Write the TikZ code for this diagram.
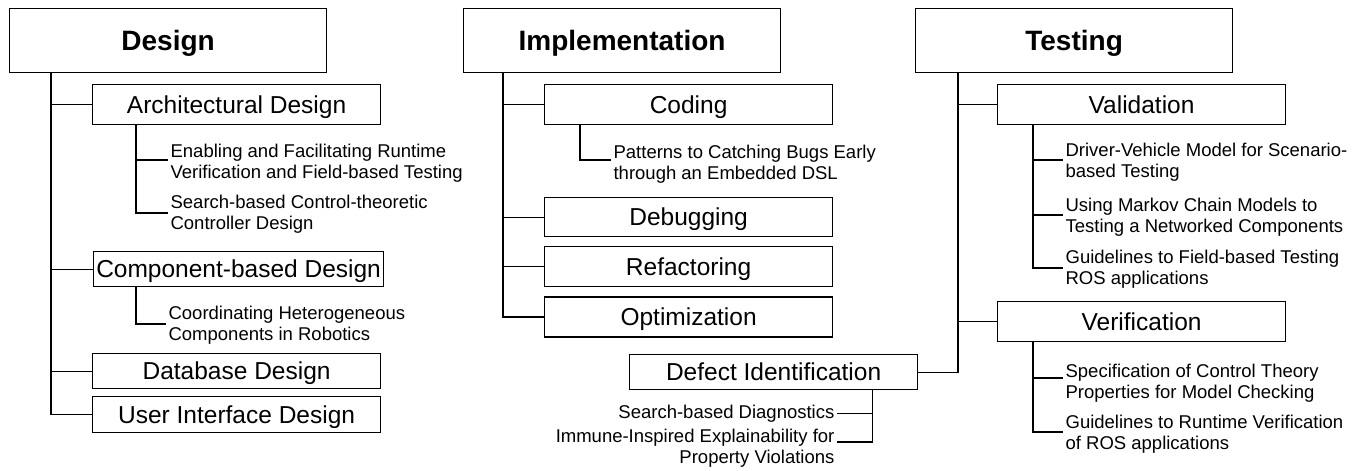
\documentclass[tikz,border=0pt]{standalone}
\usepackage{fontspec}
\setmainfont{Liberation Sans}
\usetikzlibrary{positioning}

\tikzset{
  phase/.style={draw, minimum width=317pt, minimum height=64pt, inner sep=0pt, anchor=north west,
    text height=20pt, text depth=0pt, font=\fontsize{28}{34}\selectfont\bfseries},
  task/.style={draw, minimum width=288pt, minimum height=40pt, inner sep=0pt, anchor=north west,
    text height=17.5pt, text depth=0pt, font=\fontsize{24.5}{29}\selectfont},
  paper/.style={align=left, inner xsep=2pt, inner ysep=1pt, anchor=base west,
    font=\fontsize{18.5}{21}\selectfont},
}

\begin{document}
\begin{tikzpicture}[x=1pt, y=-1pt, line width=1.2pt]
    \useasboundingbox (0,0) rectangle (1361,471);

    % Phases
    \node[phase] (design) at (9,8) {Design};
    \node[phase] (impl) at (463,8) {Implementation};
    \node[phase] (testing) at (915,8) {Testing};

    % Design (papers are placed by the baseline of their last line)
    \node[task] (archd) at (92,84) {Architectural Design};
    \node[paper] (enabling) at (168,178) {Enabling and Facilitating Runtime\\Verification and Field-based Testing};
    \node[paper] (searchctl) at (168,229) {Search-based Control-theoretic\\Controller Design};
    \node[task, minimum width=290pt, minimum height=35pt] (compd) at (93,251) {Component-based Design};
    \node[paper] (coord) at (166,340) {Coordinating Heterogeneous\\Components in Robotics};
    \node[task, minimum height=35pt] (dbd) at (92,353) {Database Design};
    \node[task, minimum height=36pt, below=7pt of dbd] (uid) {User Interface Design};

    % Implementation
    \node[task] (coding) at (544,84) {Coding};
    \node[paper] (patterns) at (611,179) {Patterns to Catching Bugs Early\\through an Embedded DSL};
    \node[task, minimum height=39pt] (debug) at (544,197) {Debugging};
    \node[task, below=9pt of debug] (refac) {Refactoring};
    \node[task, below=9pt of refac] (optim) {Optimization};
    \node[task, minimum height=35pt] (defect) at (629,354) {Defect Identification};
    \node[paper, anchor=base east, align=right] (diag) at (837,418) {Search-based Diagnostics};
    \node[paper, anchor=base east, align=right] (immune) at (837,463) {Immune-Inspired Explainability for\\Property Violations};

    % Testing
    \node[task] (valid) at (997,84) {Validation};
    \node[paper] (driver) at (1063,177) {Driver-Vehicle Model for Scenario-\\based Testing};
    \node[paper] (markov) at (1063,232) {Using Markov Chain Models to\\Testing a Networked Components};
    \node[paper] (fieldros) at (1063,284) {Guidelines to Field-based Testing\\ROS applications};
    \node[task] (verif) at (997,301) {Verification};
    \node[paper] (spec) at (1063,398) {Specification of Control Theory\\Properties for Model Checking};
    \node[paper] (rvros) at (1063,449) {Guidelines to Runtime Verification\\of ROS applications};

    % Tree lines
    \draw ([xshift=42pt]design.south west) |- (archd.west)
          ([xshift=42pt]design.south west) |- (compd.west)
          ([xshift=42pt]design.south west) |- (dbd.west)
          ([xshift=42pt]design.south west) |- (uid.west);
    \draw ([xshift=44pt]archd.south west) |- ([yshift=18pt]enabling.base west)
          ([xshift=44pt]archd.south west) |- ([yshift=16pt]searchctl.base west);
    \draw ([xshift=43pt]compd.south west) |- ([yshift=16pt]coord.base west);

    \draw ([xshift=40pt]impl.south west) |- (coding.west)
          ([xshift=40pt]impl.south west) |- (debug.west)
          ([xshift=40pt]impl.south west) |- (refac.west)
          ([xshift=40pt]impl.south west) |- (optim.west);
    \draw ([xshift=36pt]coding.south west) |- ([yshift=19pt]patterns.base west);
    \draw ([xshift=-46pt]defect.south east) |- (diag.east)
          ([xshift=-46pt]defect.south east) |- ([yshift=21pt]immune.base east);

    \draw ([xshift=43pt]testing.south west) |- (valid.west)
          ([xshift=43pt]testing.south west) |- (verif.west)
          ([xshift=43pt]testing.south west) |- (defect.east);
    \draw ([xshift=36pt]valid.south west) |- ([yshift=17pt]driver.base west)
          ([xshift=36pt]valid.south west) |- ([yshift=17pt]markov.base west)
          ([xshift=36pt]valid.south west) |- ([yshift=16pt]fieldros.base west);
    \draw ([xshift=36pt]verif.south west) |- ([yshift=20pt]spec.base west)
          ([xshift=36pt]verif.south west) |- ([yshift=17pt]rvros.base west);
\end{tikzpicture}
\end{document}
